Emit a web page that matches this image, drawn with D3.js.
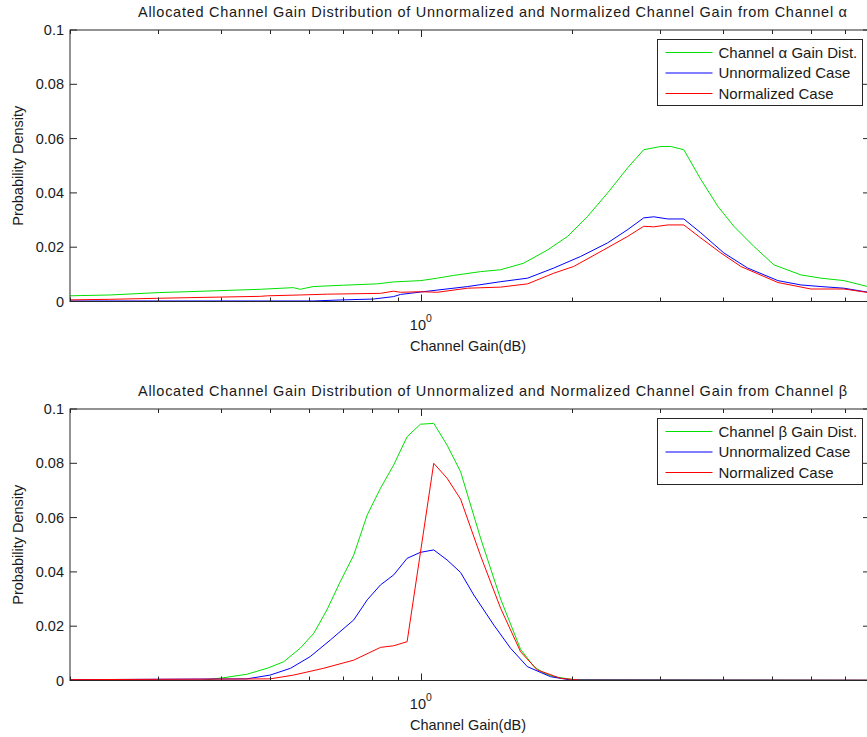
<!DOCTYPE html>
<html><head><meta charset="utf-8">
<script src="https://cdn.jsdelivr.net/npm/d3@7"></script>
<style>
body{margin:0;background:#fff;}
text{font-family:"Liberation Sans",Arial,Helvetica,sans-serif;fill:#1a1a1a;}
</style>
</head><body>
<svg id="c" width="867" height="737"></svg>
<script>
// ---------- data ----------
const titles = [
  "Allocated Channel Gain Distribution of Unnormalized and Normalized Channel Gain from Channel \u03b1",
  "Allocated Channel Gain Distribution of Unnormalized and Normalized Channel Gain from Channel \u03b2"
];
const legendLabelsAlpha = ["Channel \u03b1 Gain Dist.", "Unnormalized Case", "Normalized Case"];
const legendLabelsBeta  = ["Channel \u03b2 Gain Dist.", "Unnormalized Case", "Normalized Case"];
const yTicks = [0, 0.02, 0.04, 0.06, 0.08, 0.1];
const yTickLabels = ["0", "0.02", "0.04", "0.06", "0.08", "0.1"];
const xMajorTicks = [1];
const xMinorTicks = [0.2,0.3,0.4,0.5,0.6,0.7,0.8,0.9,2,3,4,5,6,7];
const xLabel = "Channel Gain(dB)";
const yLabel = "Probability Density";

// Channel alpha
const alphaDistX = [0.200,0.240,0.302,0.342,0.398,0.479,0.557,0.575,0.610,0.701,0.819,0.882,1.0,1.079,1.162,1.315,1.442,1.602,1.789,1.961,2.150,2.356,2.584,2.780,3.006,3.147,3.341,3.612,3.905,4.203,4.607,5.051,5.717,6.268,6.966,7.85];
const alphaDistY = [0.0021,0.0024,0.0033,0.0036,0.0040,0.0045,0.0051,0.0045,0.0055,0.0060,0.0065,0.0072,0.0077,0.0086,0.0096,0.0110,0.0117,0.0141,0.0190,0.0240,0.0314,0.0400,0.0493,0.0559,0.0571,0.0571,0.0559,0.0450,0.0351,0.0277,0.0203,0.0135,0.0098,0.0086,0.0077,0.0053];
const alphaUnnormX = [0.200,0.610,0.701,0.804,0.882,0.911,1.0,1.239,1.442,1.632,1.839,2.082,2.356,2.584,2.780,2.911,3.104,3.341,3.612,4.014,4.481,5.144,5.717,6.268,6.966,7.85];
const alphaUnnormY = [0.0002,0.0002,0.0006,0.0009,0.0018,0.0026,0.0035,0.0055,0.0073,0.0086,0.0123,0.0166,0.0216,0.0265,0.0308,0.0312,0.0304,0.0304,0.0253,0.0179,0.0123,0.0077,0.0061,0.0055,0.0049,0.0033];
const alphaNormX = [0.200,0.240,0.302,0.342,0.479,0.495,0.575,0.651,0.831,0.882,0.911,1.0,1.079,1.239,1.442,1.632,1.839,2.016,2.313,2.584,2.780,2.911,3.104,3.341,3.612,3.959,4.340,5.144,5.987,6.966,7.85];
const alphaNormY = [0.0006,0.0008,0.0012,0.0014,0.0019,0.0021,0.0024,0.0027,0.0030,0.0038,0.0034,0.0036,0.0034,0.0049,0.0053,0.0065,0.0104,0.0129,0.0190,0.0240,0.0277,0.0275,0.0282,0.0282,0.0234,0.0179,0.0129,0.0070,0.0046,0.0046,0.0032];

// Channel beta
const betaDistX = [0.200,0.363,0.404,0.450,0.494,0.533,0.575,0.612,0.650,0.691,0.735,0.782,0.831,0.883,0.939,0.998,1.061,1.128,1.200,1.315,1.442,1.580,1.680,1.759,1.841,2.018,7.85];
const betaDistY = [0.0000,0.0000,0.0010,0.0023,0.0045,0.0069,0.0119,0.0174,0.0260,0.0364,0.0462,0.0610,0.0708,0.0794,0.0898,0.0944,0.0947,0.0867,0.0769,0.0525,0.0300,0.0115,0.0051,0.0027,0.0014,0.0003,0.0001];
const betaUnnormX = [0.200,0.450,0.501,0.550,0.602,0.660,0.735,0.782,0.831,0.883,0.939,0.998,1.061,1.128,1.200,1.275,1.398,1.509,1.630,1.813,1.988,7.85];
const betaUnnormY = [0.0003,0.0006,0.0020,0.0045,0.0088,0.0149,0.0223,0.0297,0.0352,0.0389,0.0450,0.0472,0.0481,0.0444,0.0398,0.0315,0.0204,0.0119,0.0051,0.0014,0.0002,0.0001];
const betaNormX = [0.200,0.501,0.558,0.640,0.735,0.831,0.883,0.939,1.061,1.128,1.200,1.315,1.442,1.580,1.706,1.898,2.082,7.85];
const betaNormY = [0.0003,0.0006,0.0020,0.0045,0.0075,0.0122,0.0128,0.0143,0.0800,0.0745,0.0668,0.0460,0.0266,0.0106,0.0039,0.0008,0.0001,0.0001];

const seriesColors = ["#00e000", "#0000ff", "#ff0000"];

// ---------- layout ----------
const W = 867, H = 737;
const plotLeft = 70, plotRight = 870;
const panels = [
  {top: 30, bottom: 301.5, title: titles[0], legend: legendLabelsAlpha,
   series: [[alphaDistX, alphaDistY],[alphaUnnormX, alphaUnnormY],[alphaNormX, alphaNormY]]},
  {top: 409, bottom: 680.5, title: titles[1], legend: legendLabelsBeta,
   series: [[betaDistX, betaDistY],[betaUnnormX, betaUnnormY],[betaNormX, betaNormY]]}
];

const svg = d3.select("#c");
svg.append("rect").attr("width", W).attr("height", H).attr("fill", "#fff");

const x = d3.scaleLog().domain([0.2, 7.85]).range([plotLeft, plotRight]);
const fs = 14.5;

panels.forEach((p, pi) => {
  const y = d3.scaleLinear().domain([0, 0.1]).range([p.bottom, p.top]);
  const g = svg.append("g");
  const clipId = "clip" + pi;
  g.append("clipPath").attr("id", clipId).append("rect")
    .attr("x", plotLeft).attr("y", p.top).attr("width", plotRight - plotLeft).attr("height", p.bottom - p.top);

  // data lines
  const line = d3.line().x(d => x(d[0])).y(d => y(d[1]));
  p.series.forEach((s, si) => {
    const pts = s[0].map((xv, i) => [xv, s[1][i]]);
    g.append("path").attr("d", line(pts)).attr("fill", "none")
      .attr("stroke", seriesColors[si]).attr("stroke-width", 1)
      .attr("clip-path", `url(#${clipId})`);
  });

  // box
  const axisColor = "#262626";
  g.append("rect").attr("x", plotLeft).attr("y", p.top)
    .attr("width", plotRight - plotLeft).attr("height", p.bottom - p.top)
    .attr("fill", "none").attr("stroke", axisColor).attr("stroke-width", 1);

  // x ticks (bottom and top, inward)
  const majorLen = 7, minorLen = 4;
  const xt = xMajorTicks.map(v => ({v, len: majorLen})).concat(xMinorTicks.map(v => ({v, len: minorLen})));
  xt.forEach(t => {
    const px = Math.round(x(t.v)) + 0.5;
    g.append("line").attr("x1", px).attr("x2", px).attr("y1", p.bottom).attr("y2", p.bottom - t.len)
      .attr("stroke", axisColor);
    g.append("line").attr("x1", px).attr("x2", px).attr("y1", p.top).attr("y2", p.top + t.len)
      .attr("stroke", axisColor);
  });
  // y ticks (left and right)
  yTicks.forEach((v, i) => {
    const py = y(v);
    g.append("line").attr("x1", plotLeft).attr("x2", plotLeft + majorLen).attr("y1", py).attr("y2", py).attr("stroke", axisColor);
    g.append("line").attr("x1", plotRight).attr("x2", plotRight - majorLen).attr("y1", py).attr("y2", py).attr("stroke", axisColor);
    g.append("text").attr("x", plotLeft - 6).attr("y", py).attr("dy", "0.35em")
      .attr("text-anchor", "end").attr("font-size", fs).text(yTickLabels[i]);
  });
  // x major tick label 10^0
  xMajorTicks.forEach(v => {
    const t = g.append("text").attr("x", x(v) - 11).attr("y", p.bottom + 28)
      .attr("font-size", fs);
    t.append("tspan").text("10");
    t.append("tspan").attr("font-size", fs * 0.72).attr("dy", -8).text(String(Math.round(Math.log10(v))));
  });

  // title
  g.append("text").attr("x", 492.5).attr("y", p.top - 13).attr("text-anchor", "middle")
    .attr("font-size", 14.5).attr("textLength", 709).attr("lengthAdjust", "spacing").text(p.title);
  // x label
  g.append("text").attr("x", 468).attr("y", p.bottom + 49).attr("text-anchor", "middle")
    .attr("font-size", fs).text(xLabel);
  // y label
  const yc = (p.top + p.bottom) / 2;
  g.append("text").attr("transform", `translate(23,${yc}) rotate(-90)`).attr("text-anchor", "middle")
    .attr("font-size", fs).text(yLabel);

  // legend
  const lx = 657.5, ly = p.top + 9.5, lw = 205, lh = 66;
  g.append("rect").attr("x", lx).attr("y", ly).attr("width", lw).attr("height", lh)
    .attr("fill", "#fff").attr("stroke", axisColor).attr("stroke-width", 1);
  p.legend.forEach((lab, i) => {
    const ry = ly + 13 + i * 20.5;
    g.append("line").attr("x1", lx + 8).attr("x2", lx + 55).attr("y1", ry).attr("y2", ry)
      .attr("stroke", seriesColors[i]).attr("stroke-width", 1);
    g.append("text").attr("x", lx + 61).attr("y", ry).attr("dy", "0.35em")
      .attr("font-size", 15).text(lab);
  });
});
</script>
</body></html>
